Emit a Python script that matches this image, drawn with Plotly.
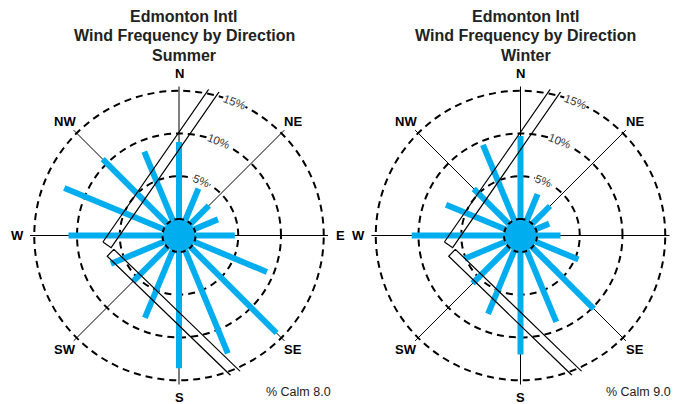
import math
import plotly.graph_objects as go

# ---------------- data ----------------
directions = ["N", "NNE", "NE", "ENE", "E", "ESE", "SE", "SSE",
              "S", "SSW", "SW", "WSW", "W", "WNW", "NW", "NNW"]
bearings = [i * 22.5 for i in range(16)]
summer = [9.0, 4.0, 3.0, 3.0, 4.6, 9.2, 14.2, 13.0, 13.6, 8.5, 5.7, 6.7, 11.0, 12.6, 10.7, 8.7]
winter = [9.7, 3.3, 2.95, 1.7, 2.75, 5.4, 10.2, 9.0, 12.0, 8.0, 6.0, 5.15, 10.8, 7.5, 5.8, 9.55]
calm = {"Summer": 8.0, "Winter": 9.0}
compass_vals = [0, 45, 90, 135, 180, 225, 270, 315]
compass_text = ["N", "NE", "E", "SE", "S", "SW", "W", "NW"]
ring_vals = [5, 10, 15]
ring_text = ["5%", "10%", "15%"]
# runways: (x0, y0, x1, y1, width) in radial units, relative to centre (x east, y north)
runways = [(-8.42, -1.09, 4.68, 17.82, 1.17),
           (-8.01, -2.02, 7.17, -16.68, 1.12)]

# ---------------- layout constants ----------------
OFF = 8                       # page body margin of the browser
W, H = 679 - OFF, 404 - OFF   # figure size
C = 1.93          # radial offset (calm hole)
RMAX = 15.5
R_OUT = 149.0     # px
K = R_OUT / (RMAX + C)
CY = 235.5 - OFF
CENTERS = [179.0 - OFF, 520.5 - OFF]
LABEL_R = 161.5   # px, compass label distance
BLUE = "#00AEEF"
FONT = "Liberation Sans, Arial, sans-serif"


def to_polar(x, y):
    d = math.hypot(x, y)
    return d - C, math.degrees(math.atan2(x, y))


def runway_poly(x0, y0, x1, y1, w):
    dx, dy = x1 - x0, y1 - y0
    L = math.hypot(dx, dy)
    px, py = -dy / L * w / 2, dx / L * w / 2
    pts = [(x0 + px, y0 + py), (x1 + px, y1 + py), (x1 - px, y1 - py), (x0 - px, y0 - py), (x0 + px, y0 + py)]
    rs, ts = zip(*[to_polar(a, b) for a, b in pts])
    return list(rs), list(ts)


def paper(px, py):
    return px / W, 1 - py / H


fig = go.Figure()
annotations = []
seasons = [("Summer", summer), ("Winter", winter)]
for idx, (season, vals) in enumerate(seasons):
    pname = "polar" if idx == 0 else "polar2"
    sub = pname
    r, t = [], []
    for b, v in zip(bearings, vals):
        r += [0, v, None]
        t += [b, b, None]
    fig.add_trace(go.Scatterpolar(r=r, theta=t, mode="lines", subplot=sub,
                                  line=dict(color=BLUE, width=6), showlegend=False, hoverinfo="skip"))
    n = 73
    fig.add_trace(go.Scatterpolar(r=[0] * n, theta=[i * 5 for i in range(n)], mode="lines", subplot=sub,
                                  fill="toself", fillcolor=BLUE,
                                  line=dict(color="black", width=2, dash="5px,4px"),
                                  showlegend=False, hoverinfo="skip"))
    for rw in runways:
        rr, tt = runway_poly(*rw)
        fig.add_trace(go.Scatterpolar(r=rr, theta=tt, mode="lines", subplot=sub,
                                      line=dict(color="black", width=1.2),
                                      showlegend=False, hoverinfo="skip"))

    cx = CENTERS[idx]
    dom_x = [(cx - R_OUT) / W, (cx + R_OUT) / W]
    dom_y = [(H - CY - R_OUT) / H, (H - CY + R_OUT) / H]
    fig.update_layout({pname: dict(
        domain=dict(x=dom_x, y=dom_y),
        bgcolor="rgba(0,0,0,0)",
        radialaxis=dict(range=[-C, RMAX], tickvals=ring_vals, showticklabels=False, ticks="",
                        showline=False, showgrid=True, gridcolor="black", gridwidth=2,
                        griddash="7px,5px"),
        angularaxis=dict(direction="clockwise", rotation=90, tickmode="array",
                         tickvals=compass_vals, ticktext=compass_text, ticks="",
                         showticklabels=False,
                         showline=False, showgrid=True, gridcolor="black", gridwidth=1),
    )})

    # compass labels
    for a, txt in zip(compass_vals, compass_text):
        ang = math.radians(a)
        x, y = paper(cx + LABEL_R * math.sin(ang), CY - LABEL_R * math.cos(ang))
        annotations.append(dict(x=x, y=y, xref="paper", yref="paper", text=txt,
                                xanchor="center", yanchor="middle", showarrow=False,
                                font=dict(family=FONT, size=13, color="black", weight="bold")))
    # ring labels
    for v, txt in zip(ring_vals, ring_text):
        d = (v + C) * K
        ang = math.radians(22.5)
        x, y = paper(cx + d * math.sin(ang), CY - d * math.cos(ang))
        annotations.append(dict(x=x, y=y, xref="paper", yref="paper", text=txt,
                                xanchor="center", yanchor="middle",
                                showarrow=False, textangle=21, bgcolor="white", borderpad=0,
                                font=dict(family=FONT, size=11.5, color="#333")))
    # titles
    for line, ty in zip(["Edmonton Intl", "Wind Frequency by Direction", season], [16.7, 35.5, 55.5]):
        x, y = paper(cx + 5, ty - OFF)
        annotations.append(dict(x=x, y=y, xref="paper", yref="paper", text=line,
                                xanchor="center", yanchor="middle",
                                showarrow=False, font=dict(family=FONT, size=16, color="#222", weight="bold")))
    x, y = paper(cx + 119 + (-1 if idx else 0), 392 - OFF)
    annotations.append(dict(x=x, y=y, xref="paper", yref="paper",
                            text="%% Calm %.1f" % calm[season], showarrow=False,
                            xanchor="center", yanchor="middle",
                            font=dict(family=FONT, size=12.5, color="#222")))

fig.update_layout(width=W, height=H, margin=dict(l=0, r=0, t=0, b=0),
                  paper_bgcolor="white", plot_bgcolor="white", annotations=annotations,
                  showlegend=False)
fig.write_html("out.html")
